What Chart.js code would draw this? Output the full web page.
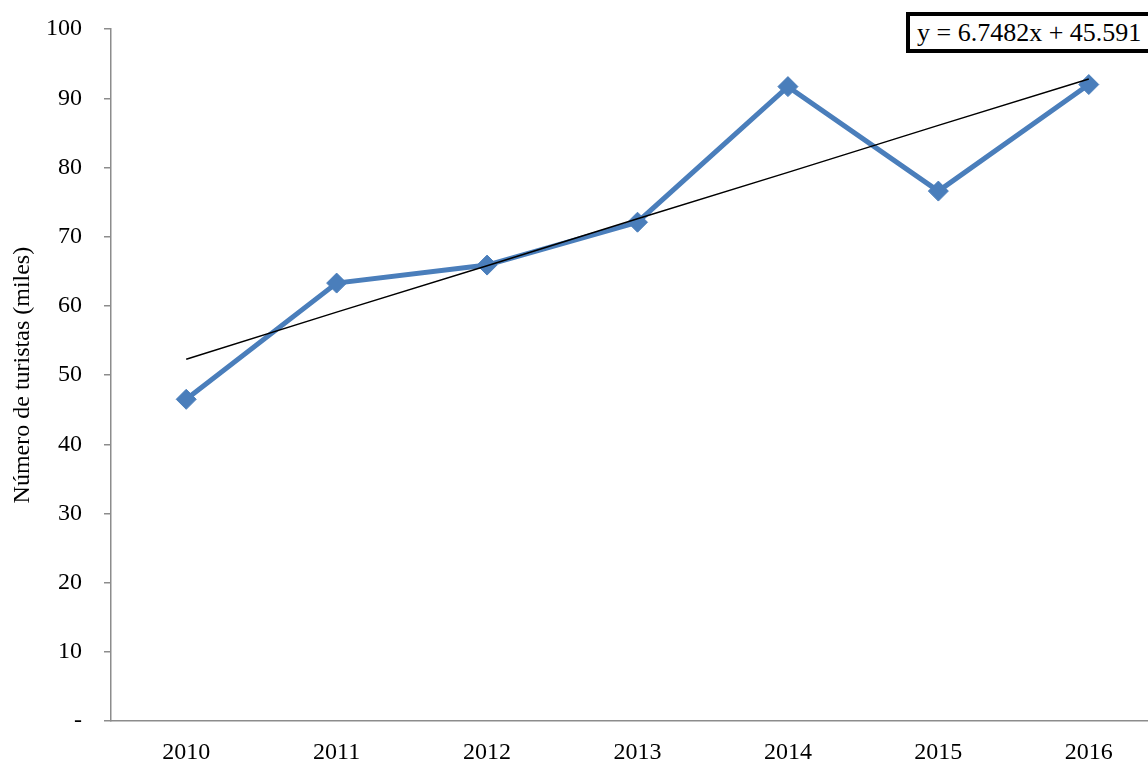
<!DOCTYPE html>
<html>
<head>
  <meta charset="utf-8">
  <script src="https://cdn.jsdelivr.net/npm/chart.js"></script>
  <style>
    html, body { margin: 0; padding: 0; overflow: hidden; background: #fff; }
    #wrap { position: relative; width: 1175px; height: 764px; }
    #eq {
      position: absolute; left: 906px; top: 12px; width: 260px; height: 33px;
      border: 4px solid #000; background: #fff;
      font-family: "Liberation Serif", serif; font-size: 26px; line-height: 33px;
      padding-left: 7px; color: #000; box-sizing: content-box; white-space: nowrap;
    }
  </style>
</head>
<body>
  <div id="wrap">
    <canvas id="myChart" width="1175" height="764"></canvas>
    <div id="eq">y = 6.7482x + 45.591</div>
  </div>

  <script>
    // datos
    var years = ['2010', '2011', '2012', '2013', '2014', '2015', '2016'];
    var turistas = [46.5, 63.3, 65.9, 72.1, 91.7, 76.6, 92.0];
    // línea de tendencia (y = 6.7482x + 45.591)
    var tendencia = [52.3, 59.1, 65.8, 72.6, 79.3, 86.1, 92.8];
    var yTicks = [0, 10, 20, 30, 40, 50, 60, 70, 80, 90, 100];

    var serif = { family: '"Liberation Serif", serif', size: 24 };
    var axisGray = '#8c8c8c';

    var ctx = document.getElementById('myChart').getContext('2d');
    var myChart = new Chart(ctx, {
      type: 'line',
      data: {
        labels: years,
        datasets: [{
          label: 'Turistas',
          data: turistas,
          borderColor: '#4a7ebb',
          backgroundColor: '#4a7ebb',
          borderWidth: 5,
          pointStyle: 'rectRot',
          pointRadius: 10,
          pointHoverRadius: 10,
          pointBorderWidth: 1,
          fill: false,
          order: 2
        }, {
          label: 'Tendencia',
          data: tendencia,
          borderColor: '#000',
          borderWidth: 1.5,
          pointRadius: 0,
          fill: false,
          order: 1
        }]
      },
      options: {
        responsive: false,
        animation: false,
        layout: { padding: { top: 0, left: 0, right: 0, bottom: 0 } },
        plugins: { legend: { display: false }, tooltip: { enabled: false } },
        scales: {
          x: {
            offset: true,
            grid: { display: false, drawTicks: false },
            border: { color: axisGray, width: 1.5 },
            ticks: { color: '#000', font: serif, padding: 17 },
            afterFit: function (s) { s.height = 43; }
          },
          y: {
            min: 0, max: 100,
            afterBuildTicks: function (s) { s.ticks = yTicks.map(v => ({ value: v })); },
            grid: { drawOnChartArea: false, tickLength: 7, color: axisGray, lineWidth: 1.5 },
            border: { color: axisGray, width: 1.5 },
            ticks: {
              color: '#000', font: { family: serif.family, size: 24, lineHeight: 0.6 }, padding: 22,
              callback: function (v) { return v === 0 ? '-' : v; }
            },
            title: { display: true, text: 'Número de turistas (miles)', color: '#000', font: serif, padding: { top: 8, bottom: 0 } },
            afterFit: function (s) { s.width = 111; }
          }
        }
      }
    });
  </script>
</body>
</html>
